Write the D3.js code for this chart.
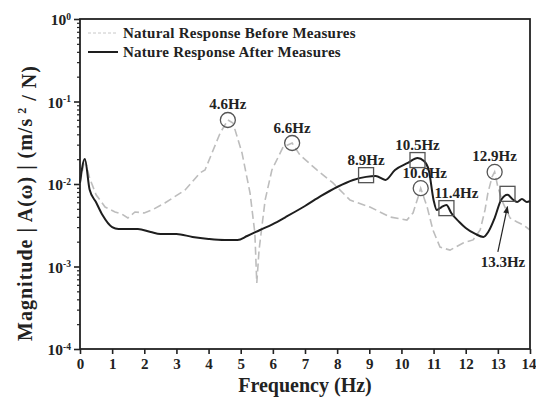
<!DOCTYPE html>
<html>
<head>
<meta charset="utf-8">
<script src="https://cdn.jsdelivr.net/npm/d3@7"></script>
<style>
  html, body { margin: 0; padding: 0; background: #fff; }
  svg { display: block; }
  text { font-family: "Liberation Serif", "DejaVu Serif", serif; font-weight: bold; fill: #222; }
</style>
</head>
<body>
<svg id="chart" width="536" height="403"></svg>
<script>
// Frequency response magnitude before and after the vibration-control measures
const freqBefore = [0, 0.15, 0.3, 0.5, 0.78, 1.09, 1.3, 1.49, 1.71, 2.0, 2.3, 2.64, 3.27, 3.73, 3.89,
  4.36, 4.6, 4.76, 5.04, 5.29, 5.44, 5.5, 5.57, 5.76, 5.97, 6.32, 6.6, 6.84, 7.37, 7.87, 8.4, 9.02,
  9.65, 10.17, 10.36, 10.52, 10.6, 10.8, 10.98, 11.2, 11.51, 11.92, 12.23, 12.45, 12.6, 12.69,
  12.82, 12.9, 13.0, 13.16, 13.38, 13.6, 13.8, 14.0];
const magBefore = [0.0103, 0.0201, 0.0118, 0.0074, 0.00526, 0.00458, 0.00433, 0.00387, 0.00458,
  0.00445, 0.00498, 0.00589, 0.00846, 0.0136, 0.0148, 0.0415, 0.0597, 0.0549, 0.0238, 0.00778,
  0.00255, 0.00063, 0.00158, 0.0064, 0.0148, 0.0281, 0.0314, 0.0225, 0.0148, 0.0103, 0.0064,
  0.00526, 0.00398, 0.00366, 0.00445, 0.00696, 0.0089, 0.00526, 0.00277, 0.00172, 0.00158,
  0.00193, 0.0021, 0.00277, 0.00484, 0.00778, 0.0122, 0.014, 0.0092, 0.00589, 0.00387, 0.00346,
  0.00318, 0.00277];

const freqAfter = [0, 0.15, 0.3, 0.5, 0.7, 1.0, 1.2, 1.5, 1.8, 2.2, 2.5, 3.0, 3.5, 4.0, 4.5, 4.9,
  5.2, 5.6, 6.0, 6.4, 7.0, 7.5, 8.0, 8.5, 8.9, 9.2, 9.5, 9.8, 10.2, 10.5, 10.7, 10.85, 11.0, 11.1,
  11.25, 11.4, 11.55, 11.8, 12.0, 12.3, 12.55, 12.7, 12.9, 13.1, 13.3, 13.45, 13.6, 13.75, 13.9, 14.0];
const magAfter = [0.0103, 0.0201, 0.0085, 0.006, 0.0042, 0.003, 0.00285, 0.00285, 0.00285, 0.00262,
  0.00248, 0.00248, 0.00228, 0.00216, 0.0021, 0.0021, 0.00234, 0.00277, 0.00327, 0.00398, 0.00541,
  0.00716, 0.0092, 0.0112, 0.0122, 0.0125, 0.0112, 0.0148, 0.018, 0.0207, 0.019, 0.0148, 0.0064,
  0.00484, 0.00526, 0.00556, 0.00445, 0.00346, 0.00293, 0.00248, 0.00228, 0.00262, 0.00387, 0.0064,
  0.0074, 0.00658, 0.00605, 0.00658, 0.00605, 0.00622];

const seriesNames = ["Natural Response Before Measures", "Nature Response After Measures"];
const xTicks = d3.range(0, 15);
const yDecades = [-4, -3, -2, -1, 0];

// Marked resonance peaks: circles on the original response, squares on the treated one
const circleFreqs = [4.6, 6.6, 10.6, 12.9];
const circleMags = [0.0597, 0.0314, 0.0089, 0.014];
const circleLabels = ["4.6Hz", "6.6Hz", "10.6Hz", "12.9Hz"];
const squareFreqs = [8.9, 10.5, 11.4, 13.3];
const squareMags = [0.0128, 0.0195, 0.0051, 0.0076];
const squareLabels = ["8.9Hz", "10.5Hz", "11.4Hz", "13.3Hz"];

const svg = d3.select("#chart");
const margin = { top: 19, right: 6, bottom: 54, left: 80 };
const W = 536, H = 403;
const iw = W - margin.left - margin.right;
const ih = H - margin.top - margin.bottom;

const x = d3.scaleLinear().domain([0, 14]).range([margin.left, margin.left + iw]);
const y = d3.scaleLog().domain([1e-4, 1]).range([margin.top + ih, margin.top]);

// Curves
const before = freqBefore.map((f, i) => [f, magBefore[i]]);
const after = freqAfter.map((f, i) => [f, magAfter[i]]);
const lineBefore = d3.line().x(d => x(d[0])).y(d => y(d[1]));
const lineAfter = d3.line().x(d => x(d[0])).y(d => y(d[1])).curve(d3.curveMonotoneX);

svg.append("path").datum(before).attr("d", lineBefore)
  .attr("fill", "none").attr("stroke", "#bdbdbd").attr("stroke-width", 1.6)
  .attr("stroke-dasharray", "8,4");
svg.append("path").datum(after).attr("d", lineAfter)
  .attr("fill", "none").attr("stroke", "#1e1e1e").attr("stroke-width", 2);

// Axes
const xAxis = d3.axisBottom(x).tickValues(xTicks).tickSize(5).tickPadding(4).tickFormat(d3.format("d"));
const gx = svg.append("g").attr("transform", `translate(0,${margin.top + ih})`).call(xAxis);
gx.select(".domain").remove();
gx.selectAll(".tick line").attr("stroke", "#222").attr("stroke-width", 1.6);
gx.selectAll(".tick text").attr("font-size", 15).attr("font-family", "Liberation Serif")
  .attr("font-weight", "bold").attr("fill", "#222")
  .attr("dx", d => d === 14 ? -1.5 : 0);

const minorVals = [];
yDecades.slice(0, -1).forEach(e => { for (let k = 2; k <= 9; k++) minorVals.push(k * Math.pow(10, e)); });
const gyMinor = svg.append("g").attr("transform", `translate(${margin.left},0)`)
  .call(d3.axisLeft(y).tickValues(minorVals).tickSize(3).tickFormat(""));
gyMinor.select(".domain").remove();
gyMinor.selectAll(".tick line").attr("stroke", "#222").attr("stroke-width", 1.2);

const gy = svg.append("g").attr("transform", `translate(${margin.left},0)`)
  .call(d3.axisLeft(y).tickValues(yDecades.map(e => Math.pow(10, e))).tickSize(6).tickFormat(""));
gy.select(".domain").remove();
gy.selectAll(".tick line").attr("stroke", "#222").attr("stroke-width", 1.6);
gy.selectAll(".tick").each(function (d) {
  const t = d3.select(this).append("text").attr("x", -9).attr("dy", "0.38em")
    .attr("text-anchor", "end").attr("font-size", 15.5).attr("fill", "#222");
  t.append("tspan").text("10");
  t.append("tspan").attr("dy", "-0.6em").attr("font-size", 9.5).text(String(Math.round(Math.log10(d))));
});

// Frame
svg.append("rect").attr("x", margin.left).attr("y", margin.top).attr("width", iw).attr("height", ih)
  .attr("fill", "none").attr("stroke", "#222").attr("stroke-width", 1.8);

// Axis titles
svg.append("text").attr("x", x(7)).attr("y", 392).attr("text-anchor", "middle")
  .attr("font-size", 20).text("Frequency (Hz)");
const yt = svg.append("text").attr("transform", `translate(32,203) rotate(-90)`)
  .attr("text-anchor", "middle").attr("font-size", 20).attr("letter-spacing", 1);
yt.append("tspan").text("Magnitude | A(\u03c9) |  (m/s");
yt.append("tspan").attr("dy", "-0.5em").attr("font-size", 12).text(" 2");
yt.append("tspan").attr("dy", "0.5em").text("  / N)");

// Legend
const legend = svg.append("g").attr("transform", `translate(${margin.left + 8},33)`);
legend.append("line").attr("x1", 0).attr("x2", 30).attr("y1", 0).attr("y2", 0)
  .attr("stroke", "#c8c8c8").attr("stroke-width", 1).attr("stroke-dasharray", "3,2");
legend.append("text").attr("x", 35).attr("y", 0).attr("dy", "0.35em").attr("font-size", 15)
  .attr("letter-spacing", 0.25).text(seriesNames[0]);
legend.append("line").attr("x1", 0).attr("x2", 30).attr("y1", 19).attr("y2", 19)
  .attr("stroke", "#1e1e1e").attr("stroke-width", 2);
legend.append("text").attr("x", 35).attr("y", 19).attr("dy", "0.35em").attr("font-size", 15)
  .attr("letter-spacing", 0.25).text(seriesNames[1]);

// Peak markers
const markStroke = "#555";
const r = 7.5, side = 15;
const labelShift = { "10.6Hz": 4, "11.4Hz": 10 };
circleFreqs.forEach((f, i) => {
  svg.append("circle").attr("cx", x(f)).attr("cy", y(circleMags[i])).attr("r", r)
    .attr("fill", "none").attr("stroke", markStroke).attr("stroke-width", 1.3);
  svg.append("text").attr("x", x(f) + (labelShift[circleLabels[i]] || 0))
    .attr("y", y(circleMags[i]) - r - 3).attr("text-anchor", "middle").attr("font-size", 15)
    .text(circleLabels[i]);
});
squareFreqs.forEach((f, i) => {
  svg.append("rect").attr("x", x(f) - side / 2).attr("y", y(squareMags[i]) - side / 2)
    .attr("width", side).attr("height", side)
    .attr("fill", "none").attr("stroke", markStroke).attr("stroke-width", 1.3);
  if (squareLabels[i] === "13.3Hz") return;
  svg.append("text").attr("x", x(f) + (labelShift[squareLabels[i]] || 0))
    .attr("y", y(squareMags[i]) - side / 2 - 3).attr("text-anchor", "middle").attr("font-size", 15)
    .text(squareLabels[i]);
});

// Call-out arrow for the 13.3 Hz peak
svg.append("defs").append("marker").attr("id", "arrowHead").attr("viewBox", "0 0 10 10")
  .attr("refX", 9).attr("refY", 5).attr("markerWidth", 6).attr("markerHeight", 6)
  .attr("orient", "auto").append("path").attr("d", "M0,1 L10,5 L0,9 Z").attr("fill", "#222");
const fTip = 13.3, mTip = 0.0053;
svg.append("line").attr("x1", x(13.0)).attr("y1", y(0.0015)).attr("x2", x(fTip)).attr("y2", y(mTip))
  .attr("stroke", "#222").attr("stroke-width", 1.2).attr("marker-end", "url(#arrowHead)");
svg.append("text").attr("x", x(13.16)).attr("y", y(0.00099)).attr("text-anchor", "middle")
  .attr("font-size", 15).text("13.3Hz");
</script>
</body>
</html>
